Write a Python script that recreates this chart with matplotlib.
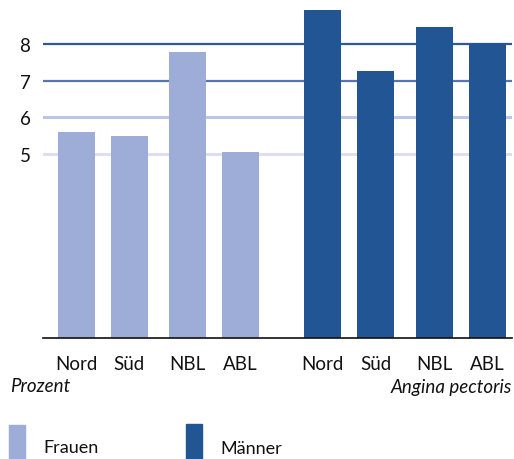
import numpy as np
import matplotlib
matplotlib.use("Agg")
from matplotlib import pyplot as plt
from matplotlib.patches import Rectangle

plt.rcParams['font.family'] = ['Lato', 'DejaVu Sans']

regions = ["Nord", "Süd", "NBL", "ABL"]
frauen = [5.59, 5.50, 7.78, 5.06]
maenner = [8.91, 7.26, 8.45, 8.02]
grid_values = [5, 6, 7, 8]
grid_colors = ["#dcdff2", "#bcc5e4", "#5576b0", "#2c5a98"]

light = "#9dadd7"
dark = "#215594"

# x positions: pairs inside each group, gap between the groups
def positions(start):
    return [start, start + 1.0, start + 2.1, start + 3.1]

x_f = positions(0.0)
x_m = positions(4.65)

fig = plt.figure(figsize=(5.14, 4.6), dpi=100)
ax = fig.add_axes([43 / 514, 1 - 339 / 460, (512 - 43) / 514, 339 / 460])

for v, c in zip(grid_values, grid_colors):
    ax.axhline(v, color=c, lw=1.6 if v >= 7 else 2.2, zorder=1)

ax.bar(x_f, frauen, width=0.7, color=light, zorder=2)
ax.bar(x_m, maenner, width=0.7, color=dark, zorder=2)

ax.set_xlim(-0.63, 8.22)
ax.set_ylim(0, 9.22)

for s in ["left", "right", "top"]:
    ax.spines[s].set_visible(False)
ax.spines["bottom"].set_linewidth(1.2)
ax.spines["bottom"].set_color("#111111")

ax.set_xticks(x_f + x_m)
ax.set_xticklabels(regions + regions, fontsize=13.5, color="#111111")
ax.tick_params(axis="x", length=0, pad=12)
ax.set_yticks(grid_values)
ax.set_yticklabels([str(v) for v in grid_values], fontsize=13.5, color="#111111")
ax.tick_params(axis="y", length=0, pad=9)

fig.text(10 / 514, 1 - 387 / 460, "Prozent", style="italic", fontsize=13.5,
         va="center", ha="left", color="#111111")
fig.text(512 / 514, 1 - 387 / 460, "Angina pectoris", style="italic", fontsize=13.5,
         va="center", ha="right", color="#111111")

# legend
fig.patches.append(Rectangle((9 / 514, 0), 16 / 514, 34 / 460,
                             transform=fig.transFigure, color=light))
fig.patches.append(Rectangle((186 / 514, 0), 16 / 514, 35 / 460,
                             transform=fig.transFigure, color=dark))
fig.text(43 / 514, 1 - 448 / 460, "Frauen", fontsize=13, va="center", color="#111111")
fig.text(220 / 514, 1 - 449 / 460, "Männer", fontsize=13, va="center", color="#111111")

fig.savefig("out.png", dpi=100)
